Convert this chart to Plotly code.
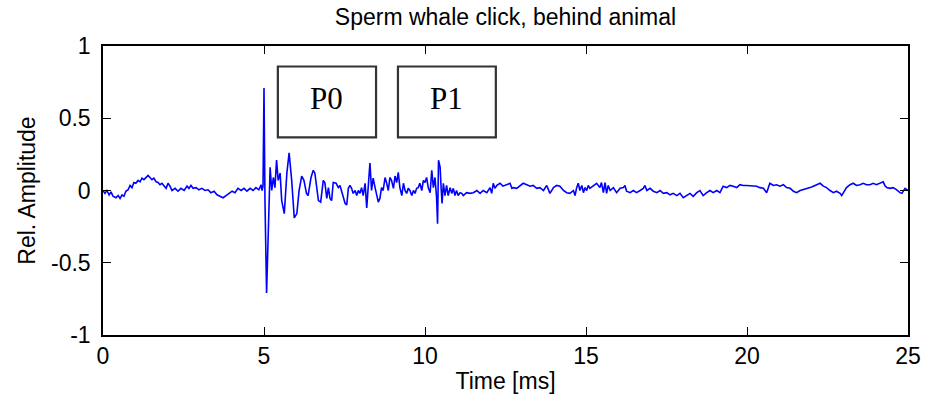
import plotly.graph_objects as go

# Time (ms) and relative amplitude
time_ms = [
    0.00, 0.06, 0.12, 0.19, 0.25, 0.31, 0.40, 0.47, 0.53, 0.59, 0.65, 0.71, 0.78, 0.84, 0.90, 0.96,
    1.02, 1.09, 1.15, 1.21, 1.27, 1.34, 1.40, 1.46, 1.52, 1.58, 1.65, 1.71, 1.77, 1.83, 1.89, 1.96,
    2.02, 2.08, 2.14, 2.24, 2.33, 2.42, 2.52, 2.61, 2.67, 2.73, 2.80, 2.89, 2.98, 3.07, 3.17, 3.26,
    3.35, 3.45, 3.54, 3.63, 3.73, 3.82, 3.91, 4.01, 4.10, 4.19, 4.29, 4.38, 4.47, 4.57, 4.66, 4.75,
    4.84, 4.91, 4.94, 4.97, 5.00, 5.03, 5.08, 5.11, 5.12, 5.19, 5.24, 5.29, 5.34, 5.39, 5.44, 5.50,
    5.55, 5.63, 5.71, 5.78, 5.86, 5.94, 6.02, 6.09, 6.17, 6.24, 6.32, 6.37, 6.46, 6.53, 6.58, 6.64,
    6.69, 6.76, 6.84, 6.89, 6.95, 7.00, 7.05, 7.10, 7.15, 7.24, 7.31, 7.36, 7.41, 7.47, 7.52, 7.57,
    7.62, 7.67, 7.72, 7.77, 7.83, 7.88, 7.93, 7.98, 8.03, 8.08, 8.14, 8.19, 8.24, 8.29, 8.34, 8.39,
    8.45, 8.50, 8.55, 8.60, 8.65, 8.70, 8.76, 8.81, 8.86, 8.91, 8.96, 9.02, 9.07, 9.12, 9.17, 9.22,
    9.28, 9.33, 9.38, 9.43, 9.48, 9.53, 9.59, 9.64, 9.69, 9.74, 9.79, 9.84, 9.90, 9.95, 10.00, 10.05,
    10.10, 10.16, 10.21, 10.26, 10.31, 10.36, 10.39, 10.42, 10.47, 10.50, 10.53, 10.57, 10.62, 10.67, 10.72, 10.78,
    10.83, 10.88, 10.93, 10.98, 11.03, 11.09, 11.14, 11.19, 11.29, 11.40, 11.50, 11.61, 11.71, 11.81, 11.92, 12.02,
    12.07, 12.12, 12.17, 12.23, 12.33, 12.42, 12.52, 12.64, 12.70, 12.74, 12.85, 12.95, 13.05, 13.16, 13.26, 13.36,
    13.47, 13.57, 13.68, 13.78, 13.88, 13.99, 14.09, 14.19, 14.30, 14.40, 14.50, 14.61, 14.66, 14.71, 14.76, 14.81,
    14.87, 14.92, 14.97, 15.02, 15.07, 15.12, 15.23, 15.33, 15.43, 15.48, 15.54, 15.59, 15.64, 15.69, 15.75, 15.85,
    15.95, 16.06, 16.16, 16.21, 16.26, 16.37, 16.47, 16.57, 16.68, 16.78, 16.83, 16.89, 16.99, 17.09, 17.20, 17.30,
    17.40, 17.51, 17.61, 17.71, 17.82, 17.92, 18.02, 18.13, 18.23, 18.33, 18.44, 18.54, 18.64, 18.75, 18.85, 18.95,
    19.06, 19.16, 19.26, 19.37, 19.47, 19.57, 19.68, 19.78, 19.88, 19.99, 20.09, 20.20, 20.30, 20.40, 20.51, 20.61,
    20.71, 20.82, 20.92, 21.02, 21.13, 21.23, 21.34, 21.44, 21.54, 21.65, 21.75, 21.85, 21.96, 22.06, 22.16, 22.27,
    22.37, 22.47, 22.58, 22.68, 22.78, 22.89, 22.94, 22.99, 23.09, 23.20, 23.30, 23.40, 23.51, 23.61, 23.71, 23.82,
    23.92, 24.02, 24.13, 24.23, 24.28, 24.34, 24.44, 24.54, 24.65, 24.75, 24.81, 24.86, 24.91, 25.00,
]
amplitude = [
    0.000, -0.020, 0.000, -0.030, -0.010, -0.040, -0.050, -0.035, -0.055, -0.030, -0.040, -0.005, 0.005, 0.035, 0.020, 0.055,
    0.050, 0.070, 0.060, 0.085, 0.075, 0.095, 0.105, 0.090, 0.075, 0.085, 0.060, 0.055, 0.040, 0.050, 0.030, 0.015,
    0.050, 0.030, 0.000, 0.015, -0.005, 0.015, 0.000, 0.030, 0.015, 0.035, 0.015, 0.020, 0.005, 0.015, 0.000, 0.005,
    -0.015, -0.005, -0.030, -0.040, -0.050, -0.035, -0.020, -0.005, -0.015, 0.015, 0.000, 0.015, -0.005, 0.015, 0.000, 0.020,
    0.005, 0.040, 0.000, 0.030, 0.710, -0.070, -0.710, -0.420, -0.450, 0.160, 0.000, 0.090, 0.020, 0.210, 0.070, 0.120,
    -0.070, -0.160, 0.120, 0.260, 0.070, -0.190, -0.160, 0.000, 0.100, 0.070, -0.020, -0.035, 0.090, 0.140, 0.120, 0.020,
    -0.070, -0.080, 0.070, 0.055, -0.055, 0.020, -0.055, -0.070, 0.055, 0.050, 0.020, 0.035, 0.000, -0.055, -0.090, -0.100,
    0.015, 0.035, 0.015, -0.020, 0.000, -0.035, 0.000, -0.020, 0.020, -0.035, 0.050, -0.120, 0.055, 0.190, 0.000, 0.085,
    0.020, -0.035, -0.080, -0.055, 0.020, 0.000, 0.090, 0.050, 0.000, 0.090, 0.070, 0.015, 0.100, 0.055, 0.125, 0.020,
    -0.035, 0.050, 0.000, -0.020, 0.015, 0.000, -0.035, 0.000, -0.020, 0.015, 0.020, 0.050, 0.000, 0.070, 0.055, 0.090,
    0.020, -0.015, 0.140, 0.020, 0.090, -0.050, -0.230, 0.210, 0.160, 0.020, -0.090, 0.050, -0.035, 0.035, -0.035, 0.020,
    -0.020, 0.015, -0.035, 0.000, -0.035, -0.015, -0.020, -0.035, -0.015, -0.020, -0.015, 0.000, -0.020, 0.000, -0.015, 0.020,
    -0.020, 0.050, 0.015, 0.035, 0.050, 0.030, 0.040, 0.050, 0.015, 0.020, 0.015, 0.035, 0.050, 0.040, 0.030, 0.035,
    0.015, 0.020, 0.000, 0.035, -0.020, 0.020, 0.035, 0.030, 0.000, -0.015, -0.020, 0.000, -0.035, 0.020, 0.050, 0.000,
    0.035, -0.015, 0.020, 0.000, 0.035, 0.015, 0.035, 0.050, 0.020, 0.055, -0.015, 0.055, -0.020, 0.035, 0.000, 0.020,
    -0.015, 0.015, 0.020, 0.035, -0.005, -0.015, 0.000, -0.015, 0.000, 0.015, 0.035, 0.000, 0.015, -0.005, -0.015, 0.000,
    -0.020, -0.015, -0.030, -0.020, -0.035, -0.020, -0.050, -0.035, -0.020, -0.040, -0.015, 0.000, -0.035, -0.015, 0.000, -0.015,
    0.000, -0.015, 0.030, 0.020, 0.035, 0.030, 0.020, 0.040, 0.035, 0.035, 0.035, 0.030, 0.030, 0.020, 0.015, -0.015,
    0.050, 0.035, 0.040, 0.030, 0.040, 0.020, 0.015, -0.005, -0.015, 0.000, 0.005, 0.015, 0.020, 0.030, 0.040, 0.050,
    0.030, 0.020, 0.000, -0.015, -0.005, -0.020, -0.035, -0.015, 0.020, 0.040, 0.050, 0.035, 0.040, 0.050, 0.040, 0.040,
    0.050, 0.040, 0.050, 0.060, 0.035, 0.020, 0.015, 0.020, 0.005, -0.015, -0.020, 0.000, 0.015, 0.000,
]

x_ticks = [0, 5, 10, 15, 20, 25]
y_ticks = [-1, -0.5, 0, 0.5, 1]
y_tick_text = ["-1", "-0.5", "0", "0.5", "1"]

# Annotation boxes (labels and their extents in data units)
box_labels = ["P0", "P1"]
box_x0 = [5.43, 9.16]
box_x1 = [8.48, 12.2]
box_y0 = [0.367, 0.367]
box_y1 = [0.858, 0.858]

FONT = "Liberation Sans, Arial, sans-serif"
FS = 23

fig = go.Figure()
fig.add_trace(go.Scatter(
    x=time_ms, y=amplitude, mode="lines",
    line=dict(color="#0000ff", width=1.6),
    hoverinfo="skip", showlegend=False,
))

for lab, a0, a1, b0, b1 in zip(box_labels, box_x0, box_x1, box_y0, box_y1):
    fig.add_shape(type="rect", xref="x", yref="y", x0=a0, x1=a1, y0=b0, y1=b1,
                  line=dict(color="#333333", width=2.2), fillcolor="white", layer="above")
    fig.add_annotation(x=(a0 + a1) / 2, y=(b0 + b1) / 2, xref="x", yref="y",
                       text=lab, showarrow=False, yshift=3,
                       font=dict(family="Liberation Serif, Times New Roman, serif", size=31, color="black"))

axis_common = dict(
    showline=True, linecolor="black", linewidth=1.5, mirror="allticks",
    ticks="inside", ticklen=8, tickwidth=1.2, tickcolor="black",
    showgrid=False, zeroline=False,
    tickfont=dict(family=FONT, size=FS, color="black"),
)

fig.update_layout(
    width=934, height=403,
    margin=dict(l=103, r=26, t=46, b=68),
    paper_bgcolor="white", plot_bgcolor="white",
    title=dict(text="Sperm whale click, behind animal", x=0.5, xanchor="center",
               y=1 - 17 / 403, yanchor="middle", xref="paper",
               font=dict(family=FONT, size=FS, color="black")),
    xaxis=dict(range=[0, 25], tickvals=x_ticks, ticktext=[str(v) for v in x_ticks],
               ticklabelstandoff=0,
               title=dict(text="Time [ms]", standoff=5, font=dict(family=FONT, size=FS, color="black")),
               **axis_common),
    yaxis=dict(range=[-1, 1], tickvals=y_ticks, ticktext=y_tick_text,
               ticklabelstandoff=6,
               title=dict(text="Rel. Amplitude", standoff=9, font=dict(family=FONT, size=FS, color="black")),
               **axis_common),
)

fig.write_html("out.html")
